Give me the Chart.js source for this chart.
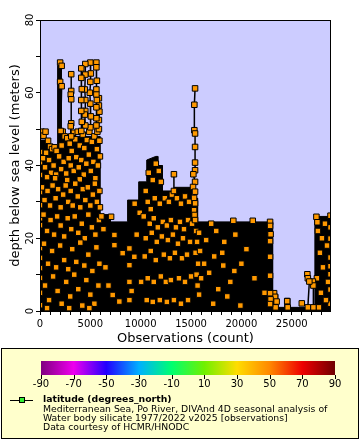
<!DOCTYPE html>
<html>
<head>
<meta charset="utf-8">
<script src="https://cdn.jsdelivr.net/npm/chart.js@4/dist/chart.umd.min.js"></script>
<style>
  html, body { margin: 0; padding: 0; background: #fff; }
  canvas { display: block; }
</style>
</head>
<body>
<canvas id="chart" width="360" height="440"></canvas>
<script>
// ---- axes ----
const xMajorTicks = [0, 5000, 10000, 15000, 20000, 25000];
const xMinorTicks = [1000, 2000, 3000, 4000, 6000, 7000, 8000, 9000, 11000, 12000, 13000, 14000,
                     16000, 17000, 18000, 19000, 21000, 22000, 23000, 24000, 26000, 27000, 28000];
const yMajorTicks = [0, 20, 40, 60, 80];
const yMinorTicks = [10, 30, 50, 70];
const colorbarTicks = [-90, -70, -50, -30, -10, 10, 30, 50, 70, 90];
const colorbarColors = ['#800080', '#ee00ee', '#2200ff', '#00b0ff', '#00ff70',
                        '#70f000', '#ffdd00', '#ff8800', '#ee0000', '#700000'];

// ---- outline of the solid black mass (overdrawn connecting lines) ----
const massObs   = [0, 0, 700, 700, 1750, 1750, 2100, 2100, 5950, 5950, 7000, 7000, 8700, 8700,
                   9800, 9800, 10600, 10600, 11500, 11700, 11700, 12150, 12150, 13350, 13350,
                   15050, 15050, 15650, 15650, 23100, 23100, 23600, 23600, 24300, 24300, 24800,
                   24800, 27300, 27300, 28900, 28900];
const massDepth = [0, 47, 47, 45.5, 45.5, 67.5, 67.5, 48, 48, 26.5, 26.5, 24.5, 24.5, 30.5,
                   30.5, 35.5, 35.5, 41.5, 42.5, 42.5, 40, 40, 33, 33, 34,
                   34, 31, 31, 24.5, 24.5, 4.5, 4.5, 1, 1, 3.5, 3.5,
                   1, 1, 26, 26, 0];

// ---- isolated profiles (points joined by lines) ----
const castObs = [
  [2000, 2150, 2000, 2150, 2050],
  [3100, 3100, 3050, 3100, 3100, 3050, 3100],
  [4100, 4100, 4150, 4100, 4100, 4150, 4100],
  [4500, 4500, 4450, 4500, 4500, 4450, 4500],
  [5000, 5050, 5000, 4950, 5000, 5050, 5000],
  [5600, 5600, 5650, 5600, 5600, 5650, 5600, 5600, 5600],
  [5850, 5850, 5900, 5850, 5850],
  [13300, 13300],
  [15400, 15330, 15330, 15400, 15400, 15400, 15400, 15230, 15400, 15200, 15400, 15300, 15400, 15300, 15350, 15400],
  [22850, 22850, 22900, 22850, 22850, 22850, 22850, 22900, 22850],
  [23250, 23350, 23500, 23400],
  [24550, 24600],
  [26550, 26600, 26750, 26600],
  [27100, 27150, 27150]
];
const castDepth = [
  [68.3, 67.4, 63, 61.8, 49.5],
  [65.1, 60.5, 59.5, 58.2, 51.6, 50.8, 48],
  [66.7, 64.1, 61, 58, 55, 52, 49.5],
  [67.9, 65, 60.9, 58, 55, 54, 51],
  [68.3, 65.3, 63, 60, 57, 53.5, 50.5],
  [68.3, 67, 63.3, 60.9, 59.5, 58, 56, 53, 51],
  [58.5, 56.5, 54.8, 52.5, 50],
  [37.6, 33],
  [61.2, 56.7, 49.7, 48.8, 45.1, 40.8, 38.7, 37.6, 35.5, 34.1, 32.8, 31.1, 29.6, 27.7, 26.4, 25],
  [24.5, 23.4, 21.1, 19.2, 14.9, 9.7, 4.9, 3.2, 1.9],
  [4.9, 3.9, 2.6, 1],
  [2.7, 1],
  [10.1, 9.0, 8.1, 1],
  [8.1, 7, 1]
];

// ---- markers showing through the mass, [observations, depth] ----
const dotsLeft = [
  [0, 48.9], [150, 49.3], [350, 48.2], [550, 49.3], [800, 46.8], [1000, 45.2], [1200, 44.5],
  [1450, 45], [1650, 44], [2250, 49.3], [2450, 48], [2700, 47.5], [2950, 46], [3300, 49],
  [3500, 47.2], [3750, 49.3], [3950, 45.5], [4250, 48.5], [4650, 47], [4900, 49.3], [5150, 46.5],
  [5400, 48], [5700, 49.3], [5900, 46.8], [5650, 44.5], [4400, 44.8], [3150, 44], [2150, 45.5],
  [600, 43.5],
  [0, 43.7], [0, 40.9], [300, 42], [500, 39.5], [900, 41.5], [1100, 38], [1350, 40], [1600, 37.5],
  [1900, 42.5], [2100, 39], [2350, 41], [2600, 37.8], [2850, 42], [3050, 40], [3350, 38.5],
  [3600, 42.3], [3850, 39.5], [4100, 41.5], [4350, 37.5], [4600, 40.5], [4850, 43], [5050, 38.5],
  [5300, 41], [5500, 36.5], [5750, 40], [5950, 42.5], [1500, 36.5], [2700, 36], [3950, 36.2],
  [700, 36.8],
  [0, 37.4], [0, 32.7], [200, 34], [450, 30.5], [750, 33], [1000, 29], [1250, 34.5], [1550, 31],
  [1800, 33.5], [2050, 28.5], [2300, 32], [2550, 34.5], [2800, 30], [3050, 33], [3250, 29],
  [3500, 35], [3750, 31.5], [4000, 28.5], [4250, 33.5], [4500, 30.5], [4750, 34], [5000, 29],
  [5250, 32], [5450, 35], [5650, 30], [5900, 33], [5950, 28.5],
  [0, 29.1], [0, 25.5], [0, 23.6], [350, 26.5], [700, 22], [1050, 25], [1400, 21], [1700, 26],
  [2050, 23.5], [2400, 20.5], [2750, 25.5], [3100, 22.5], [3450, 26], [3800, 21.5], [4150, 24],
  [4450, 20], [4800, 26.5], [5150, 23], [5500, 21], [5850, 25],
  [0, 17.3], [0, 14.6], [0, 11.8], [400, 18.5], [800, 13], [1200, 16.5], [1600, 12], [2000, 18],
  [2400, 14], [2800, 11.5], [3200, 17], [3600, 13.5], [4000, 18.8], [4400, 12.5], [4800, 15.5],
  [5200, 11], [5600, 17.5], [5900, 13],
  [0, 9.1], [0, 5], [0, 1.6], [500, 7], [900, 3], [1300, 9.5], [1750, 5.5], [2150, 2], [2600, 8],
  [3000, 4], [3400, 10], [3800, 6], [4200, 1.5], [4600, 8.5], [5000, 4.5], [5400, 2], [5800, 7],
  [700, 0.8], [2900, 0.8], [4900, 0.8]
];
const dotsMiddle = [
  [7060, 25.9], [7390, 20.9], [8880, 17.2], [8880, 12.6], [8880, 8], [8880, 3], [10040, 8],
  [9370, 14.9], [7880, 2.6], [8210, 15.9], [7390, 18.1], [7220, 4.4], [6300, 22.5], [6500, 12],
  [6800, 7], [9600, 21], [9900, 27], [9400, 29.5], [9100, 5.5], [6100, 26],
  [10500, 33], [10800, 38], [11200, 36], [11500, 40.5], [11800, 38.5], [12000, 35.5], [10700, 30],
  [11000, 28], [11400, 31], [11900, 29.5], [12400, 31], [12800, 30], [13100, 32], [13600, 31],
  [14000, 29.5], [14400, 31.5], [14800, 30], [10300, 26], [10900, 24], [11300, 25.5], [11700, 23],
  [12200, 24.5], [12600, 23.5], [13000, 25], [13500, 23], [13900, 24.5], [14300, 22.5], [14700, 25],
  [15100, 24], [10500, 20], [11100, 21.5], [11600, 19], [12100, 20.5], [12700, 19.5], [13200, 21],
  [13700, 18.5], [14200, 20], [14900, 19], [10400, 15], [11000, 16.5], [11500, 14], [12300, 15.5],
  [12900, 14.5], [13400, 16], [14100, 14.5], [14600, 15.5], [10700, 9], [11300, 8], [12000, 9.5],
  [12500, 8], [13000, 8.5], [13800, 9], [14400, 8], [15000, 9.5], [10600, 3], [11200, 2.5],
  [11900, 3], [12600, 2.5], [13300, 3], [14000, 2], [14700, 3],
  [15500, 22], [15600, 19], [15450, 16], [15700, 13], [15550, 10], [15650, 7], [15800, 21.5]
];
const dotsRight = [
  [15900, 16.5], [16000, 9], [15800, 4.5], [16300, 13], [16500, 19.5], [17000, 24], [17200, 2],
  [17500, 22], [17700, 6], [18100, 16], [18200, 12.5], [18300, 19], [18600, 4], [18900, 8],
  [19200, 24.8], [19300, 11], [19400, 21], [19900, 1.5], [20500, 17], [21130, 24.8], [21300, 9],
  [22300, 5], [16800, 10.5], [17300, 15], [20000, 13],
  [26000, 2.1],
  [27450, 25.9], [27550, 24.4], [28850, 26.2], [28850, 23], [28850, 19.9], [28850, 17.9],
  [28850, 14.7], [28850, 12.3], [28850, 10.1], [28850, 5.9], [28850, 2],
  [27600, 22], [28000, 20], [28300, 24], [27800, 16], [28500, 18], [28100, 12], [27500, 9],
  [28600, 8], [27900, 5], [28400, 3], [27700, 1]
];

const legendTitle = 'latitude (degrees_north)';
const legendLines = [
  'Mediterranean Sea, Po River, DIVAnd 4D seasonal analysis of',
  'Water body silicate 1977/2022 v2025 [observations]',
  'Data courtesy of HCMR/HNODC'
];

const FONT = '"DejaVu Sans", Verdana, sans-serif';
const ORANGE = '#ff9900';

const markerStyle = {
  pointStyle: 'rect',
  pointRadius: 3.9,
  pointBackgroundColor: ORANGE,
  pointBorderColor: '#000',
  pointBorderWidth: 1,
  pointHoverRadius: 3.9
};

const pairs = list => list.map(p => ({ x: p[0], y: p[1] }));

const datasets = [
  {
    label: 'mass',
    data: massObs.map((x, i) => ({ x: x, y: massDepth[i] })),
    showLine: true,
    borderColor: '#000',
    borderWidth: 1,
    backgroundColor: '#000',
    fill: 'origin',
    pointRadius: 0,
    pointHoverRadius: 0,
    clip: 0,
    order: 4
  },
  Object.assign({
    label: 'dots',
    data: pairs(dotsLeft).concat(pairs(dotsMiddle), pairs(dotsRight)),
    showLine: false,
    clip: 0,
    order: 3
  }, markerStyle)
];
castObs.forEach((obs, i) => {
  datasets.push(Object.assign({
    label: 'cast' + i,
    data: obs.map((x, j) => ({ x: x, y: castDepth[i][j] })),
    showLine: true,
    borderColor: '#000',
    borderWidth: 1.5,
    clip: 0,
    order: 1
  }, markerStyle));
});

const frame = {
  id: 'frame',
  beforeDraw(chart) {
    const { ctx, chartArea: a } = chart;
    ctx.save();
    ctx.fillStyle = '#fff';
    ctx.fillRect(0, 0, chart.width, chart.height);
    ctx.fillStyle = '#ccccff';
    ctx.fillRect(a.left, a.top, a.right - a.left, a.bottom - a.top);
    ctx.restore();
  },
  afterDraw(chart) {
    const { ctx, chartArea: a, scales } = chart;
    ctx.save();
    ctx.strokeStyle = '#000';
    ctx.lineWidth = 1;
    ctx.strokeRect(a.left + 0.5, a.top + 0.5, a.right - a.left - 1, a.bottom - a.top);

    // rotated y tick labels
    ctx.fillStyle = '#000';
    ctx.font = '10px ' + FONT;
    ctx.textAlign = 'center';
    ctx.textBaseline = 'middle';
    yMajorTicks.forEach(v => {
      ctx.save();
      ctx.translate(30, scales.y.getPixelForValue(v));
      ctx.rotate(-Math.PI / 2);
      ctx.fillText(String(v), 0, 0);
      ctx.restore();
    });

    // legend box
    ctx.fillStyle = '#ffffcc';
    ctx.fillRect(1, 348, 358, 91);
    ctx.strokeRect(1.5, 348.5, 357, 90);

    // colour bar
    const cx0 = 41, cx1 = 335, cy0 = 361, cy1 = 375;
    const g = ctx.createLinearGradient(cx0, 0, cx1, 0);
    colorbarColors.forEach((c, i) => g.addColorStop(i / (colorbarColors.length - 1), c));
    ctx.fillStyle = g;
    ctx.fillRect(cx0, cy0, cx1 - cx0, cy1 - cy0);
    ctx.fillStyle = '#000';
    ctx.textBaseline = 'middle';
    colorbarTicks.forEach(v => {
      const x = cx0 + (v - colorbarTicks[0]) / (colorbarTicks[colorbarTicks.length - 1] - colorbarTicks[0]) * (cx1 - cx0);
      ctx.beginPath();
      ctx.moveTo(Math.round(x) + 0.5, cy1);
      ctx.lineTo(Math.round(x) + 0.5, cy1 + 4);
      ctx.stroke();
      ctx.fillText(String(v), x, 384);
    });

    // series sample
    ctx.beginPath();
    ctx.moveTo(10, 400.5);
    ctx.lineTo(33, 400.5);
    ctx.stroke();
    ctx.fillStyle = '#33ee33';
    ctx.fillRect(19, 398, 5, 5);
    ctx.strokeRect(19.5, 397.5, 5, 5);

    ctx.fillStyle = '#000';
    ctx.textAlign = 'left';
    ctx.font = 'bold 9.3px ' + FONT;
    ctx.fillText(legendTitle, 43, 400);
    ctx.font = '9.3px ' + FONT;
    legendLines.forEach((t, i) => ctx.fillText(t, 43, 409.5 + i * 9));
    ctx.restore();
  }
};

new Chart(document.getElementById('chart'), {
  type: 'scatter',
  data: { datasets: datasets },
  options: {
    responsive: false,
    animation: false,
    devicePixelRatio: 1,
    layout: { padding: { left: 0, top: 20, right: 29, bottom: 92 } },
    plugins: { legend: { display: false }, tooltip: { enabled: false } },
    scales: {
      x: {
        type: 'linear',
        min: 0,
        max: 28900,
        afterBuildTicks: s => { s.ticks = xMajorTicks.concat(xMinorTicks).sort((a, b) => a - b).map(v => ({ value: v })); },
        afterFit: s => { s.height = 37; },
        ticks: {
          autoSkip: false,
          maxRotation: 0,
          padding: 3,
          color: '#000',
          font: { family: FONT, size: 10 },
          callback: v => xMajorTicks.includes(v) ? String(v) : ''
        },
        grid: { drawOnChartArea: false, drawTicks: true, tickLength: 4, color: '#000' },
        border: { display: false },
        title: {
          display: true,
          text: 'Observations (count)',
          color: '#000',
          font: { family: FONT, size: 13 },
          padding: { top: 0, bottom: 2 }
        }
      },
      y: {
        type: 'linear',
        min: 0,
        max: 80,
        afterBuildTicks: s => { s.ticks = yMajorTicks.concat(yMinorTicks).sort((a, b) => a - b).map(v => ({ value: v })); },
        afterFit: s => { s.width = 40; },
        ticks: { display: false },
        grid: { drawOnChartArea: false, drawTicks: true, tickLength: 4, color: '#000' },
        border: { display: false },
        title: {
          display: true,
          text: 'depth below sea level (meters)',
          color: '#000',
          font: { family: FONT, size: 13 },
          padding: { top: 8, bottom: 0 }
        }
      }
    }
  },
  plugins: [frame]
});
</script>
</body>
</html>
